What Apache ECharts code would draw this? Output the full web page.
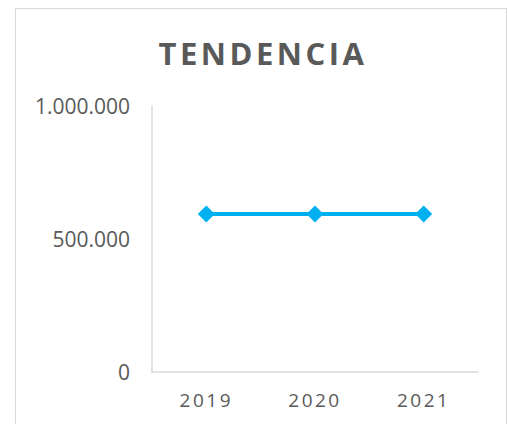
<!DOCTYPE html>
<html>
<head>
<meta charset="utf-8">
<title>Tendencia</title>
<script src="https://cdn.jsdelivr.net/npm/echarts@6/dist/echarts.min.js"></script>
<style>
    html, body { margin: 0; padding: 0; background: #fff; }
    #wrap { position: absolute; left: 0; top: 0; width: 508px; height: 424px; overflow: hidden; }
    #frame { position: absolute; left: 15px; top: 8px; width: 492px; height: 430px; border: 1px solid #d9d9d9; box-sizing: border-box; }
    #chart { position: absolute; left: 0; top: 0; width: 508px; height: 424px; }
    /* espaciado de letras del título y de las etiquetas del eje x */
    #chart text[style*="31px"] { letter-spacing: 3.5px; }
    #chart text[style*="19px"] { letter-spacing: 2.5px; }
</style>
</head>
<body>
<div id="wrap">
    <div id="frame"></div>
    <div id="chart"></div>
</div>
<script>
// datos
const titulo = "TENDENCIA";
const anios = ["2019", "2020", "2021"];
const valores = [594000, 594000, 594000];
const ejeY = { min: 0, max: 1000000, intervalo: 500000 };

// 1000000 -> 1.000.000
const formatoMiles = (v) => String(v).replace(/\B(?=(\d{3})+(?!\d))/g, ".");

const chart = echarts.init(document.getElementById("chart"), null, { renderer: "svg" });

const option = {
    animation: false,
    title: {
        text: titulo,
        left: 258,
        textAlign: "center",
        top: 32,
        textStyle: {
            color: "#595959",
            fontFamily: "Open Sans",
            fontWeight: "bold",
            fontSize: 31
        }
    },
    grid: {
        left: 152,
        right: 30,
        top: 106,
        bottom: 52,
        containLabel: false
    },
    xAxis: {
        type: "category",
        data: anios,
        boundaryGap: true,
        axisLine: { lineStyle: { color: "#d9d9d9", width: 1.5 } },
        axisTick: { show: false },
        axisLabel: {
            color: "#595959",
            fontFamily: "Open Sans",
            fontSize: 19,
            margin: 18
        }
    },
    yAxis: {
        type: "value",
        min: ejeY.min,
        max: ejeY.max,
        interval: ejeY.intervalo,
        axisLine: { show: true, lineStyle: { color: "#d9d9d9", width: 1.5 } },
        axisTick: { show: false },
        splitLine: { show: false },
        axisLabel: {
            color: "#595959",
            fontFamily: "Open Sans",
            fontSize: 21,
            margin: 22,
            formatter: formatoMiles
        }
    },
    series: [
        {
            type: "line",
            data: valores,
            color: "#00b0f0",
            symbol: "diamond",
            symbolSize: 17,
            showSymbol: true,
            lineStyle: { width: 4, color: "#00b0f0" },
            itemStyle: { color: "#00b0f0" }
        }
    ]
};

chart.setOption(option);
</script>
</body>
</html>
